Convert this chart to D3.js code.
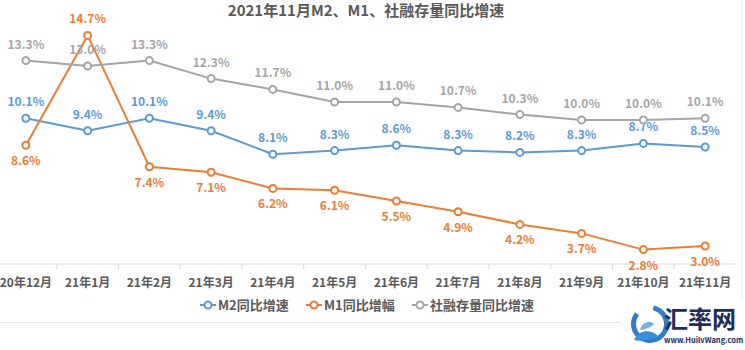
<!DOCTYPE html>
<html>
<head>
<meta charset="utf-8">
<script src="https://cdn.jsdelivr.net/npm/d3@7"></script>
<style>
  body { margin: 0; background: #fff; }
  svg { display: block; font-family: "Noto Sans CJK SC", "Noto Sans", sans-serif; }
</style>
</head>
<body>
<svg id="chart" width="745" height="350"></svg>
<script>
// Month labels on the x axis
const months = ["20年12月", "21年1月", "21年2月", "21年3月", "21年4月", "21年5月",
  "21年6月", "21年7月", "21年8月", "21年9月", "21年10月", "21年11月"];

// Year-on-year growth, %
const m2 = [10.1, 9.4, 10.1, 9.4, 8.1, 8.3, 8.6, 8.3, 8.2, 8.3, 8.7, 8.5];
const m1 = [8.6, 14.7, 7.4, 7.1, 6.2, 6.1, 5.5, 4.9, 4.2, 3.7, 2.8, 3.0];
const tsf = [13.3, 13.0, 13.3, 12.3, 11.7, 11.0, 11.0, 10.7, 10.3, 10.0, 10.0, 10.1];

const seriesNames = ["M2同比增速", "M1同比增幅", "社融存量同比增速"];

const colors = { m2: "#5b9bd5", m1: "#ed7d31", tsf: "#a5a5a5", text: "#595959", axis: "#d9d9d9" };

const series = [
  { key: "m2", name: seriesNames[0], values: m2, color: colors.m2, below: () => false },
  { key: "m1", name: seriesNames[1], values: m1, color: colors.m1, below: (i) => i !== 1 },
  { key: "tsf", name: seriesNames[2], values: tsf, color: colors.tsf, below: () => false },
];

const svg = d3.select("#chart");

const x = d3.scaleBand().domain(months).range([-5, 736]);
const y = d3.scaleLinear().domain([2, 16]).range([264, 12]);
const cx = (i) => x(months[i]) + x.bandwidth() / 2;

// Title
svg.append("text")
  .attr("x", 366).attr("y", 16)
  .attr("text-anchor", "middle")
  .attr("font-size", 15).attr("font-weight", "bold")
  .attr("fill", colors.text)
  .text("2021年11月M2、M1、社融存量同比增速");

// Category axis
const axis = svg.append("g").attr("transform", `translate(0,${y(2)})`);
axis.append("line").attr("x1", 0).attr("x2", 737).attr("stroke", colors.axis);
axis.selectAll(".tick")
  .data(months.slice(1))
  .join("line")
  .attr("x1", (d) => x(d)).attr("x2", (d) => x(d))
  .attr("y1", 0).attr("y2", 5)
  .attr("stroke", colors.axis);
axis.selectAll("text")
  .data(months)
  .join("text")
  .attr("x", (d, i) => cx(i))
  .attr("y", 23)
  .attr("text-anchor", "middle")
  .attr("font-size", 12).attr("font-weight", "bold")
  .attr("fill", colors.text)
  .text((d) => d);

// Lines, markers and labels
const line = d3.line().x((d, i) => cx(i)).y((d) => y(d));

series.forEach((s) => {
  const g = svg.append("g");
  g.append("path")
    .datum(s.values)
    .attr("d", line)
    .attr("fill", "none")
    .attr("stroke", s.color)
    .attr("stroke-width", 2);
  g.selectAll("circle")
    .data(s.values)
    .join("circle")
    .attr("cx", (d, i) => cx(i))
    .attr("cy", (d) => y(d))
    .attr("r", 3.5)
    .attr("fill", "#fff")
    .attr("stroke", s.color)
    .attr("stroke-width", 2);
  g.selectAll("text")
    .data(s.values)
    .join("text")
    .attr("x", (d, i) => cx(i))
    .attr("y", (d, i) => y(d) + (s.below(i) ? 20 : -12))
    .attr("text-anchor", "middle")
    .attr("font-size", 12).attr("font-weight", 600)
    .attr("fill", s.color)
    .text((d) => d.toFixed(1) + "%");
});

// Legend
const legendX = [200, 306, 412];
const legend = svg.append("g").attr("transform", "translate(0,305)");
series.forEach((s, i) => {
  const lg = legend.append("g").attr("transform", `translate(${legendX[i]},0)`);
  lg.append("line").attr("x1", 0).attr("x2", 16).attr("stroke", s.color).attr("stroke-width", 2);
  lg.append("circle").attr("cx", 8).attr("r", 3.5).attr("fill", "#fff")
    .attr("stroke", s.color).attr("stroke-width", 2);
  lg.append("text").attr("x", 18).attr("y", 5)
    .attr("font-size", 13).attr("font-weight", "bold")
    .attr("fill", colors.text)
    .text(s.name);
});

// Chart frame edges
svg.append("line").attr("x1", 0).attr("x2", 741).attr("y1", 322.5).attr("y2", 322.5)
  .attr("stroke", "#e3e3e3");
svg.append("line").attr("x1", 741.5).attr("x2", 741.5).attr("y1", 0).attr("y2", 322)
  .attr("stroke", "#eeeeee");

// Watermark
const wm = svg.append("g").attr("transform", "translate(620,300)");
wm.append("rect").attr("x", 0).attr("y", 0).attr("width", 125).attr("height", 50).attr("fill", "#fff");
wm.append("path")
  .attr("d", d3.arc()({ innerRadius: 14, outerRadius: 19, startAngle: 0.2, endAngle: 2 * Math.PI - 0.9 }))
  .attr("transform", "translate(30,24)")
  .attr("fill", "#2e7fc8");
wm.append("path")
  .attr("d", "M14,40 C20,28 32,30 38,36 C30,40 22,42 14,40 Z")
  .attr("fill", "#3b8fd6");
wm.append("path")
  .attr("d", "M20,30 C22,22 30,20 34,24 C30,28 24,30 20,30 Z")
  .attr("fill", "#6fb3e8");
wm.append("text").attr("x", 44).attr("y", 28)
  .attr("font-size", 24).attr("font-weight", "bold")
  .attr("fill", "#1d2d5c")
  .text("汇率网");
wm.append("text").attr("x", 44).attr("y", 43)
  .attr("font-size", 7.5).attr("font-weight", "bold")
  .attr("fill", "#1d2d5c")
  .text("www.HuilvWang.com");
</script>
</body>
</html>
